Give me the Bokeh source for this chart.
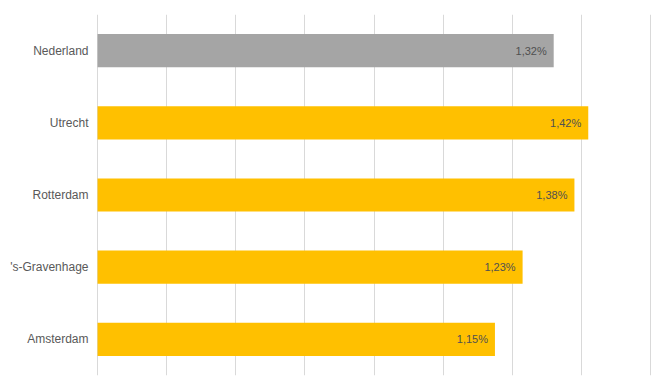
from bokeh.plotting import figure
from bokeh.models import ColumnDataSource, Range1d, FixedTicker
from bokeh.core.properties import value
from bokeh.embed import file_html
from bokeh.resources import INLINE

regions = ["Nederland", "Utrecht", "Rotterdam", "'s-Gravenhage", "Amsterdam"]
values = [1.32, 1.42, 1.38, 1.23, 1.15]
colors = ["#A5A5A5", "#FFC000", "#FFC000", "#FFC000", "#FFC000"]
labels = ["1,32%", "1,42%", "1,38%", "1,23%", "1,15%"]
grid_ticks = [0, 0.2, 0.4, 0.6, 0.8, 1.0, 1.2, 1.4, 1.6]

src = ColumnDataSource(dict(region=regions, val=values, color=colors, label=labels))

p = figure(width=659, height=383, y_range=list(reversed(regions)),
           x_range=Range1d(-0.003, 1.603), output_backend="svg", toolbar_location=None,
           min_border_left=96, min_border_right=8, min_border_top=14, min_border_bottom=8)
p.outline_line_color = None
p.background_fill_color = "white"
p.border_fill_color = "white"

p.hbar(y="region", right="val", left=0, height=0.46, color="color", line_color=None, source=src)
p.text(x="val", y="region", text="label", source=src, x_offset=-7,
       text_align="right", text_baseline="middle", text_font=value("Liberation Sans"),
       text_font_size="11px", text_color="#505050")

p.xaxis.visible = False
p.xgrid.ticker = FixedTicker(ticks=grid_ticks)
p.xgrid.grid_line_color = "#D9D9D9"
p.ygrid.grid_line_color = None

ax = p.yaxis[0]
ax.axis_line_color = None
ax.major_tick_line_color = None
ax.minor_tick_line_color = None
ax.major_label_standoff = 2
ax.major_label_text_font = "Liberation Sans"
ax.major_label_text_font_size = "12px"
ax.major_label_text_color = "#595959"

open("out.html", "w").write(file_html(p, INLINE))
